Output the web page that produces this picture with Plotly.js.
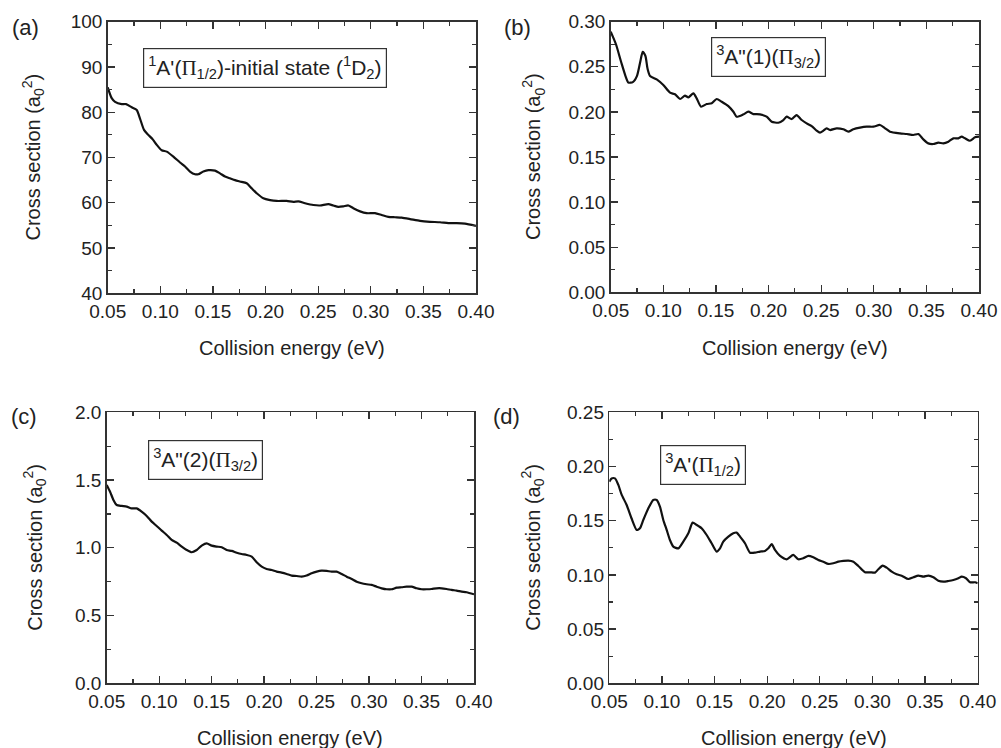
<!DOCTYPE html>
<html>
<head>
<meta charset="utf-8">
<script src="https://cdn.plot.ly/plotly-3.0.1.min.js"></script>
<style>html,body{margin:0;padding:0;background:#fff;}#chart{width:1001px;height:748px;}</style>
</head>
<body>
<div id="chart"></div>
<script>
// ---- data ----
const energyA = [0.050,0.0538,0.057,0.0633,0.0674,0.0728,0.0776,0.0807,0.0845,0.0886,0.0928,0.0966,0.1013,0.1061,0.1124,0.1187,0.1235,0.1282,0.1330,0.1361,0.1409,0.1457,0.1520,0.1567,0.1615,0.1662,0.1710,0.1757,0.1821,0.1868,0.1916,0.1979,0.2043,0.2106,0.2201,0.2264,0.2312,0.2375,0.2454,0.2518,0.2597,0.2644,0.2692,0.2739,0.2787,0.2834,0.2898,0.2961,0.3040,0.3104,0.3167,0.3230,0.3294,0.3373,0.3468,0.3563,0.3658,0.3737,0.3816,0.3895,0.400];
const sigmaA = [85.5,83.1,82.3,81.8,81.8,81.1,80.5,78.6,76.1,75.0,74.0,72.8,71.6,71.3,70.2,68.9,68.0,66.9,66.3,66.3,66.9,67.2,67.1,66.5,65.8,65.4,65.0,64.7,64.3,63.2,62.1,61.0,60.6,60.4,60.4,60.2,60.3,59.9,59.5,59.4,59.7,59.4,59.1,59.2,59.4,58.8,58.1,57.7,57.7,57.3,56.9,56.8,56.7,56.4,56.0,55.8,55.7,55.5,55.5,55.4,54.9];

const energyB = [0.050,0.055,0.060,0.064,0.0668,0.071,0.075,0.078,0.0804,0.083,0.085,0.0874,0.0937,0.1000,0.1064,0.1111,0.1159,0.1206,0.1238,0.1286,0.1317,0.1358,0.1412,0.1460,0.1507,0.1555,0.1618,0.1666,0.1697,0.1761,0.1808,0.1856,0.1919,0.1982,0.2030,0.2093,0.2141,0.2172,0.2220,0.2267,0.2315,0.2362,0.2410,0.2457,0.2489,0.2521,0.2552,0.2584,0.2647,0.2711,0.2758,0.2806,0.2869,0.2933,0.2996,0.3059,0.3107,0.3154,0.3249,0.3313,0.3376,0.3423,0.3471,0.3518,0.3566,0.3613,0.3661,0.3709,0.3756,0.3804,0.3835,0.3867,0.3914,0.3962,0.400];
const sigmaB = [0.289,0.275,0.255,0.240,0.2325,0.233,0.240,0.255,0.2665,0.262,0.248,0.2398,0.236,0.2298,0.2213,0.2195,0.2143,0.218,0.2161,0.2206,0.215,0.2058,0.2087,0.2095,0.2143,0.2113,0.2065,0.2002,0.1947,0.1973,0.2002,0.1976,0.1973,0.1947,0.1891,0.188,0.191,0.1947,0.1921,0.1965,0.191,0.1873,0.1843,0.1792,0.177,0.1792,0.1818,0.1799,0.1818,0.1807,0.1781,0.1807,0.1825,0.1836,0.1836,0.1855,0.1818,0.1781,0.1762,0.1755,0.1744,0.1755,0.1696,0.1651,0.1644,0.1659,0.1651,0.167,0.1707,0.1707,0.1725,0.1707,0.168,0.1718,0.1725];

const energyC = [0.050,0.0532,0.0564,0.0595,0.0643,0.0691,0.0738,0.0786,0.0833,0.0881,0.0929,0.0976,0.1024,0.1072,0.1119,0.1167,0.1215,0.1262,0.1310,0.1358,0.1405,0.1453,0.1500,0.1548,0.1596,0.1643,0.1691,0.1739,0.1786,0.1834,0.1882,0.1929,0.1977,0.2024,0.2072,0.2120,0.2167,0.2215,0.2263,0.2310,0.2358,0.2405,0.2453,0.2501,0.2548,0.2596,0.2644,0.2691,0.2739,0.2787,0.2834,0.2882,0.2929,0.2977,0.3025,0.3072,0.3120,0.3168,0.3215,0.3263,0.3311,0.3358,0.3406,0.3453,0.3501,0.3549,0.3596,0.3644,0.3692,0.3739,0.3787,0.3834,0.3882,0.3930,0.400];
const sigmaC = [1.464,1.414,1.353,1.316,1.309,1.304,1.291,1.291,1.267,1.235,1.193,1.161,1.127,1.095,1.058,1.038,1.009,0.984,0.967,0.984,1.016,1.033,1.016,1.009,1.004,0.984,0.977,0.964,0.954,0.947,0.935,0.893,0.861,0.844,0.836,0.824,0.817,0.807,0.795,0.792,0.787,0.795,0.812,0.824,0.831,0.829,0.824,0.824,0.807,0.787,0.770,0.750,0.738,0.731,0.726,0.713,0.701,0.694,0.694,0.706,0.709,0.713,0.713,0.701,0.694,0.694,0.696,0.701,0.701,0.696,0.689,0.684,0.677,0.672,0.657];

const energyD = [0.050,0.0522,0.0554,0.0586,0.0617,0.0665,0.0712,0.0760,0.0791,0.0823,0.0871,0.0918,0.0950,0.0981,0.1013,0.1045,0.1076,0.1108,0.1156,0.1203,0.1251,0.1292,0.1330,0.1377,0.1425,0.1472,0.1520,0.1552,0.1583,0.1631,0.1678,0.1710,0.1742,0.1789,0.1837,0.1884,0.1932,0.1979,0.2011,0.2043,0.2074,0.2122,0.2185,0.2248,0.2296,0.2343,0.2391,0.2438,0.2486,0.2533,0.2581,0.2628,0.2676,0.2724,0.2771,0.2819,0.2866,0.2929,0.2977,0.3024,0.3056,0.3097,0.3135,0.3183,0.3230,0.3278,0.3341,0.3389,0.3436,0.3484,0.3531,0.3579,0.3626,0.3674,0.3721,0.3769,0.3816,0.3848,0.3889,0.3927,0.3975,0.400];
const sigmaD = [0.186,0.189,0.189,0.183,0.174,0.1645,0.152,0.1415,0.143,0.1507,0.1614,0.1691,0.1691,0.163,0.1507,0.1415,0.1322,0.1261,0.1245,0.1307,0.1384,0.1482,0.1461,0.143,0.1368,0.1292,0.1215,0.1245,0.1307,0.1353,0.1384,0.139,0.1353,0.1292,0.1205,0.1205,0.1215,0.1221,0.1245,0.1285,0.123,0.1175,0.1144,0.1184,0.1144,0.1153,0.1175,0.1162,0.1138,0.1122,0.1101,0.1107,0.1122,0.1129,0.1132,0.1122,0.1082,0.1024,0.1024,0.1021,0.1052,0.1086,0.1067,0.103,0.1006,0.0993,0.0962,0.0978,0.0993,0.0984,0.0993,0.0978,0.0947,0.0938,0.0944,0.0953,0.0969,0.0984,0.0969,0.0932,0.0932,0.0922];

const panelLabels = ['(a)','(b)','(c)','(d)'];
const stateLabels = [
  "<sup>1</sup>A'(<span style=\"font-family:'Liberation Serif'\">Π</span><sub>1/2</sub>)-initial state (<sup>1</sup>D<sub>2</sub>)",
  "<sup>3</sup>A\"(1)(<span style=\"font-family:'Liberation Serif'\">Π</span><sub>3/2</sub>)",
  "<sup>3</sup>A\"(2)(<span style=\"font-family:'Liberation Serif'\">Π</span><sub>3/2</sub>)",
  "<sup>3</sup>A'(<span style=\"font-family:'Liberation Serif'\">Π</span><sub>1/2</sub>)"
];
const xTitle = 'Collision energy (eV)';
const yTitle = 'Cross section (a<sub>0</sub><sup>2</sup>)';
const yRanges = [[40,100],[0,0.30],[0,2.0],[0,0.25]];
const yMajor = [10,0.05,0.5,0.05];
const yMinor = [5,0.025,0.25,0.025];
const yFormats = ['d','.2f','.1f','.2f'];

// ---- layout geometry (pixels) ----
const W = 1001, H = 748;
const boxes = [ // [left, right, top, bottom] of plot areas
  [107.7, 476.0, 21.7, 293.3],
  [610.7, 979.0, 21.7, 292.3],
  [106.7, 474.0, 412.3, 683.3],
  [609.3, 977.7, 412.3, 683.3]
];
const labelPos = [[25,27],[517,27],[24,416],[506,416]];
const statePos = [[264.7,67.9],[768.8,57.0],[205.4,459.7],[702.9,465.3]];
const xTitleY = [348,348,738,738];
const yTitleX = [33,533,35,533];

const ink = '#222';
const fam = 'Liberation Sans, Arial, sans-serif';
const data = [];
const series = [[energyA,sigmaA],[energyB,sigmaB],[energyC,sigmaC],[energyD,sigmaD]];
const layout = {
  width:W, height:H, margin:{l:0,r:0,t:0,b:0},
  paper_bgcolor:'#fff', plot_bgcolor:'#fff', showlegend:false,
  font:{family:fam, size:19, color:ink}, annotations:[]
};
series.forEach((s,i)=>{
  const n = i===0 ? '' : String(i+1);
  data.push({x:s[0], y:s[1], xaxis:'x'+n, yaxis:'y'+n, type:'scatter', mode:'lines',
    line:{color:'#111', width:2.2, shape:'spline', smoothing:0.6}, hoverinfo:'skip'});
  const b = boxes[i];
  const axCommon = {showline:true, linecolor:'#333', linewidth:1.5, mirror:'ticks',
    ticks:'inside', ticklen:7, tickwidth:1.3, tickcolor:'#333', showgrid:false, zeroline:false,
    tickfont:{family:fam, size:19, color:ink}};
  layout['xaxis'+n] = Object.assign({}, axCommon, {
    domain:[b[0]/W, b[1]/W], anchor:'y'+n, range:[0.05,0.40], tick0:0.05, dtick:0.05,
    tickformat:'.2f',
    minor:{dtick:0.025, tick0:0.05, ticks:'inside', ticklen:4, tickwidth:1.2, tickcolor:'#333', showgrid:false}
  });
  layout['yaxis'+n] = Object.assign({}, axCommon, {
    domain:[1-b[3]/H, 1-b[2]/H], anchor:'x'+n, range:yRanges[i], tick0:0, dtick:yMajor[i],
    tickformat:yFormats[i],
    minor:{dtick:yMinor[i], ticks:'inside', ticklen:4, tickwidth:1.2, tickcolor:'#333', showgrid:false}
  });
  layout.annotations.push({xref:'paper', yref:'paper', x:labelPos[i][0]/W, y:1-labelPos[i][1]/H,
    xanchor:'center', yanchor:'middle', showarrow:false, text:panelLabels[i],
    font:{family:fam, size:22, color:ink}});
  layout.annotations.push({xref:'paper', yref:'paper', x:statePos[i][0]/W, y:1-statePos[i][1]/H,
    xanchor:'center', yanchor:'middle', showarrow:false, text:stateLabels[i],
    bordercolor:'#333', borderwidth:1.2, borderpad:4, bgcolor:'#fff',
    font:{family:fam, size:21, color:ink}});
  layout.annotations.push({xref:'paper', yref:'paper', x:(b[0]+b[1])/2/W, y:1-xTitleY[i]/H,
    xanchor:'center', yanchor:'middle', showarrow:false, text:xTitle,
    font:{family:fam, size:20, color:ink}});
  layout.annotations.push({xref:'paper', yref:'paper', x:yTitleX[i]/W, y:1-(b[2]+b[3])/2/H,
    xanchor:'center', yanchor:'middle', showarrow:false, text:yTitle, textangle:-90,
    font:{family:fam, size:20, color:ink}});
});
Plotly.newPlot('chart', data, layout, {staticPlot:true, displayModeBar:false});
</script>
</body>
</html>
